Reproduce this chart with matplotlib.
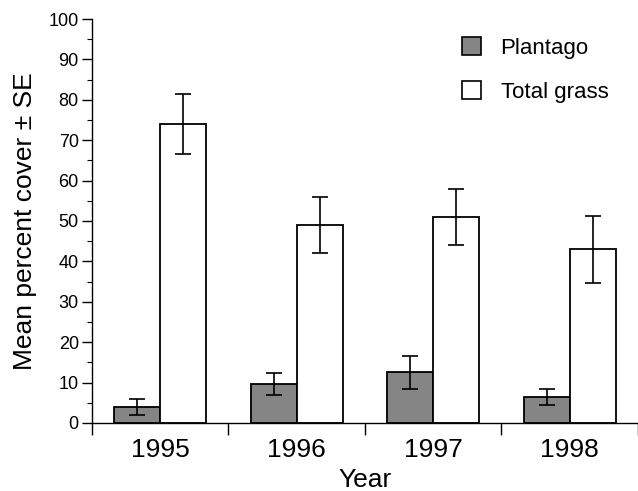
import numpy as np
import matplotlib
matplotlib.use("Agg")
import matplotlib.pyplot as plt
from matplotlib.patches import Patch

plt.rcParams['font.family'] = ['Liberation Sans', 'DejaVu Sans']

# data
years = ['1995', '1996', '1997', '1998']
plantago = [4.0, 9.6, 12.5, 6.5]
plantago_se = [1.9, 2.7, 4.1, 2.0]
grass = [74.0, 49.0, 51.0, 43.0]
grass_se = [7.4, 7.0, 6.9, 8.3]

fig = plt.figure(figsize=(6.38, 4.91), dpi=100)
ax = fig.add_axes([0.1442, 0.1385, 0.8558, 0.8228])

x = np.arange(len(years)) + 0.5
w = 0.336
err_kw = dict(ecolor='black', elinewidth=1.2, capsize=5.5, capthick=1.2)

ax.bar(x - w / 2, plantago, w, yerr=plantago_se, color='#858585',
       edgecolor='black', linewidth=1.3, error_kw=err_kw, label='Plantago')
ax.bar(x + w / 2, grass, w, yerr=grass_se, color='white',
       edgecolor='black', linewidth=1.3, error_kw=err_kw, label='Total grass')

ax.set_xlim(0, 4)
ax.set_ylim(0, 100)
ax.spines['top'].set_visible(False)
ax.spines['right'].set_visible(False)
ax.spines['left'].set_linewidth(1.0)
ax.spines['bottom'].set_linewidth(1.0)

# year labels centred, tick marks on the boundaries
ax.set_xticks(x)
ax.set_xticklabels(years, fontsize=19)
ax.set_xticks([0, 1, 2, 3, 4], minor=True)
ax.tick_params(axis='x', which='major', length=0, pad=11)
ax.tick_params(axis='x', which='minor', length=8.5, width=1.0, direction='out')

ax.set_yticks(np.arange(0, 101, 10))
ax.set_yticks(np.arange(5, 100, 10), minor=True)
ax.tick_params(axis='y', which='major', labelsize=13, length=7.5, width=1.0, pad=2)
ax.tick_params(axis='y', which='minor', length=3.5, width=0.8)

ax.set_xlabel('Year', fontsize=19, labelpad=4)
ax.set_ylabel('Mean percent cover \u00b1 SE', fontsize=19, labelpad=8)

handles = [Patch(facecolor='#858585', edgecolor='black', linewidth=1.2),
           Patch(facecolor='white', edgecolor='black', linewidth=1.2)]
ax.legend(handles, ['Plantago', 'Total grass'], loc='upper left',
          bbox_to_anchor=(0.677, 0.955), frameon=False, fontsize=16,
          handlelength=0.85, handleheight=0.85, handletextpad=0.9,
          labelspacing=1.0, borderpad=0, borderaxespad=0)

fig.savefig('out.png', dpi=100)
